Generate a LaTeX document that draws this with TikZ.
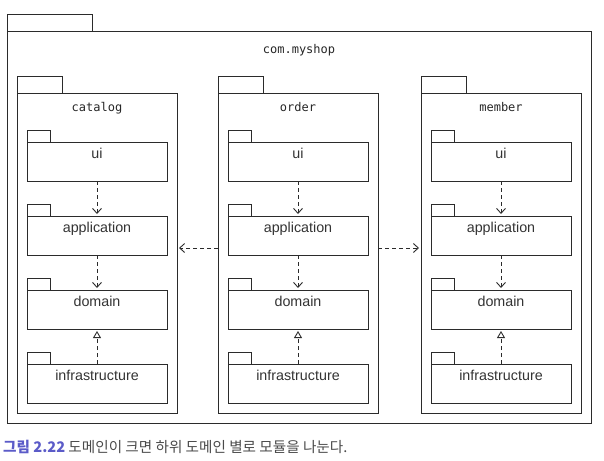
\documentclass[tikz,border=0pt]{standalone}
\usepackage{fontspec}
\setmainfont{Liberation Sans}
\newfontfamily\monofnt{DejaVu Sans Mono}
\newfontfamily\krfont{Noto Sans CJK KR}
\usetikzlibrary{arrows.meta}
\definecolor{linec}{HTML}{2B2B2B}
\definecolor{capblue}{HTML}{5B5BC8}
\definecolor{capgray}{HTML}{4A4A4A}
\tikzset{
  ln/.style={draw=linec, line width=0.9pt},
  body/.style={ln, rectangle, inner sep=0pt, outer sep=0pt},
  outerbody/.style={body, minimum width=584pt, minimum height=392pt},
  pkgbody/.style={body, minimum width=160pt, minimum height=320pt},
  subbody/.style={body, minimum width=140pt, minimum height=39pt},
  monotxt/.style={font=\monofnt\fontsize{12}{14}\selectfont, text=black!85, anchor=base, inner sep=0pt},
  subtxt/.style={font=\fontsize{14.3}{16}\selectfont, text=black!80, anchor=base, inner sep=0pt},
  dep/.style={ln, dash pattern=on 4pt off 3pt, -{Straight Barb[length=5pt,width=9pt,line width=0.9pt]}},
  impl/.style={ln, dash pattern=on 4pt off 3pt, -{Triangle[open,length=7pt,width=8pt,line width=0.9pt]}},
}
\begin{document}
\begin{tikzpicture}[x=1pt,y=-1pt]
\useasboundingbox (0,0) rectangle (604,460);
% outer package
\node[outerbody] (shop) at (299,227) {};
\draw[ln] (shop.north west) rectangle ++(85,-17);
\node[monotxt] (shopname) at ([yshift=-22pt]shop.north) {com.myshop};
% packages
\foreach \p/\x/\t in {catalog/97/catalog, order/298/order, member/501/member}{
  \node[pkgbody] (\p) at (\x,253) {};
  \draw[ln] (\p.north west) rectangle ++(45,-17);
  \node[monotxt] (\p-name) at ([yshift=-18.5pt]\p.north) {\t};
  \foreach \s/\y/\st in {ui/161.5/ui, app/235.5/application, dom/309.5/domain, inf/383.5/infrastructure}{
    \node[subbody] (\p-\s) at (\x,\y) {};
    \draw[ln] (\p-\s.north west) rectangle ++(23,-12);
    \node[subtxt] (\p-\s-name) at ([yshift=-16pt]\p-\s.north) {\st};
  }
  \draw[dep] (\p-ui.south) -- ([yshift=2pt]\p-app.north);
  \draw[dep] (\p-app.south) -- ([yshift=2pt]\p-dom.north);
  \draw[impl] (\p-inf.north) -- ([yshift=-2pt]\p-dom.south);
}
% inter-package dependencies
\draw[dep] ([yshift=5pt]order.west) -- ([xshift=2pt,yshift=5pt]catalog.east);
\draw[dep] ([yshift=5pt]order.east) -- ([xshift=-2pt,yshift=5pt]member.west);
% caption
\node[anchor=base west, inner sep=0pt, font=\krfont\fontsize{14.6}{17}\selectfont] (caption) at (3,452)
  {\textcolor{capblue}{\bfseries 그림 2.22} \textcolor{capgray}{도메인이 크면 하위 도메인 별로 모듈을 나눈다.}};
\end{tikzpicture}
\end{document}
